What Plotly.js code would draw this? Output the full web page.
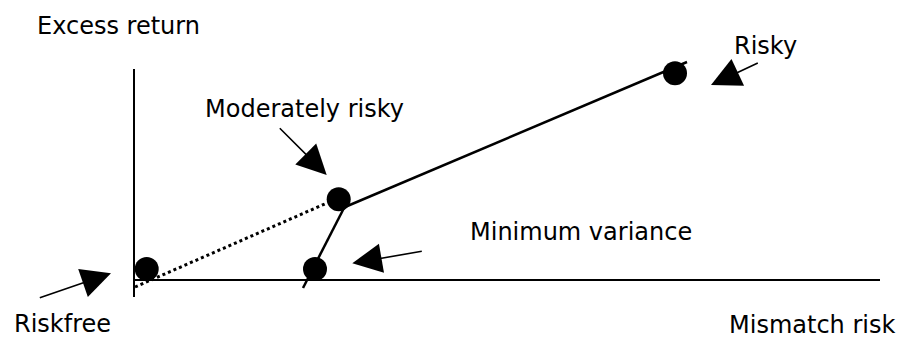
<!DOCTYPE html>
<html lang="en">
<head>
  <meta charset="UTF-8">
  <title>Mismatch risk vs excess return</title>
  <script src="https://cdn.plot.ly/plotly-3.0.1.min.js"></script>
  <style>
    body { margin: 0; background: white; }
    #chart { width: 909px; height: 341px; }
  </style>
</head>
<body>
  <div id="chart"></div>
  <script>
    // Portfolios (x = mismatch risk, y = excess return, arbitrary units)
    const portNames = ['Riskfree', 'Minimum variance', 'Moderately risky', 'Risky'];
    const portX = [1.27, 18.1, 20.47, 54.1];
    const portY = [1.1, 1.1, 8.07, 20.67];

    // Frontier segments
    const lowerX = [16.9, 21.0];
    const lowerY = [-0.8, 7.2];
    const upperX = [21.1, 55.3];
    const upperY = [7.3, 21.8];
    const cmlX = [0.1, 19.3];
    const cmlY = [-0.7, 7.7];

    // Axes drawn by hand
    const vAxisX = [0, 0];
    const vAxisY = [-1.7, 21.1];
    const hAxisX = [-0.1, 74.6];
    const hAxisY = [0, 0];

    // Labels: text, x, y
    const labelText = ['Excess return', 'Risky', 'Moderately risky', 'Minimum variance', 'Riskfree', 'Mismatch risk'];
    const labelX = [-9.9, 59.8, 6.9, 33.4, -12.2, 59.3];
    const labelY = [25.4, 23.4, 17.1, 4.8, -4.4, -4.5];

    // Pointer arrows: tail -> tip
    const arrowTailX = [-9.57, 28.93, 14.43, 62.53];
    const arrowTailY = [-1.83, 2.9, 15.33, 21.77];
    const arrowTipX = [-2.3, 21.83, 19.27, 57.7];
    const arrowTipY = [0.67, 1.67, 10.5, 19.5];

    const lineStyle = { color: 'black', width: 2 };
    const data = [
      { x: vAxisX, y: vAxisY, mode: 'lines', line: lineStyle, hoverinfo: 'skip' },
      { x: hAxisX, y: hAxisY, mode: 'lines', line: lineStyle, hoverinfo: 'skip' },
      { x: cmlX, y: cmlY, mode: 'lines', line: { color: 'black', width: 3, dash: 'dot' }, hoverinfo: 'skip' },
      { x: lowerX, y: lowerY, mode: 'lines', line: { color: 'black', width: 2.5 }, hoverinfo: 'skip' },
      { x: upperX, y: upperY, mode: 'lines', line: { color: 'black', width: 2.5 }, hoverinfo: 'skip' },
      { x: portX, y: portY, text: portNames, mode: 'markers', marker: { color: 'black', size: 24 } }
    ];

    const annotations = [];
    labelText.forEach((t, i) => {
      annotations.push({
        x: labelX[i], y: labelY[i], xref: 'x', yref: 'y',
        text: t, showarrow: false, xanchor: 'left', yanchor: 'middle',
        font: { family: 'DejaVu Sans', size: 24, color: 'black' }
      });
    });
    arrowTipX.forEach((tx, i) => {
      annotations.push({
        x: tx, y: arrowTipY[i], ax: arrowTailX[i], ay: arrowTailY[i],
        xref: 'x', yref: 'y', axref: 'x', ayref: 'y',
        text: '', showarrow: true, arrowhead: 2, arrowsize: 3.7, arrowwidth: 1.6,
        arrowcolor: 'black', standoff: 0, startstandoff: 0
      });
    });

    const layout = {
      width: 909,
      height: 341,
      margin: { l: 0, r: 0, t: 0, b: 0 },
      showlegend: false,
      plot_bgcolor: 'white',
      paper_bgcolor: 'white',
      xaxis: { range: [-13.4, 77.5], visible: false, fixedrange: true },
      yaxis: { range: [-6.1, 28.0], visible: false, fixedrange: true },
      annotations: annotations
    };

    Plotly.newPlot('chart', data, layout, { displayModeBar: false, staticPlot: true });
  </script>
</body>
</html>
